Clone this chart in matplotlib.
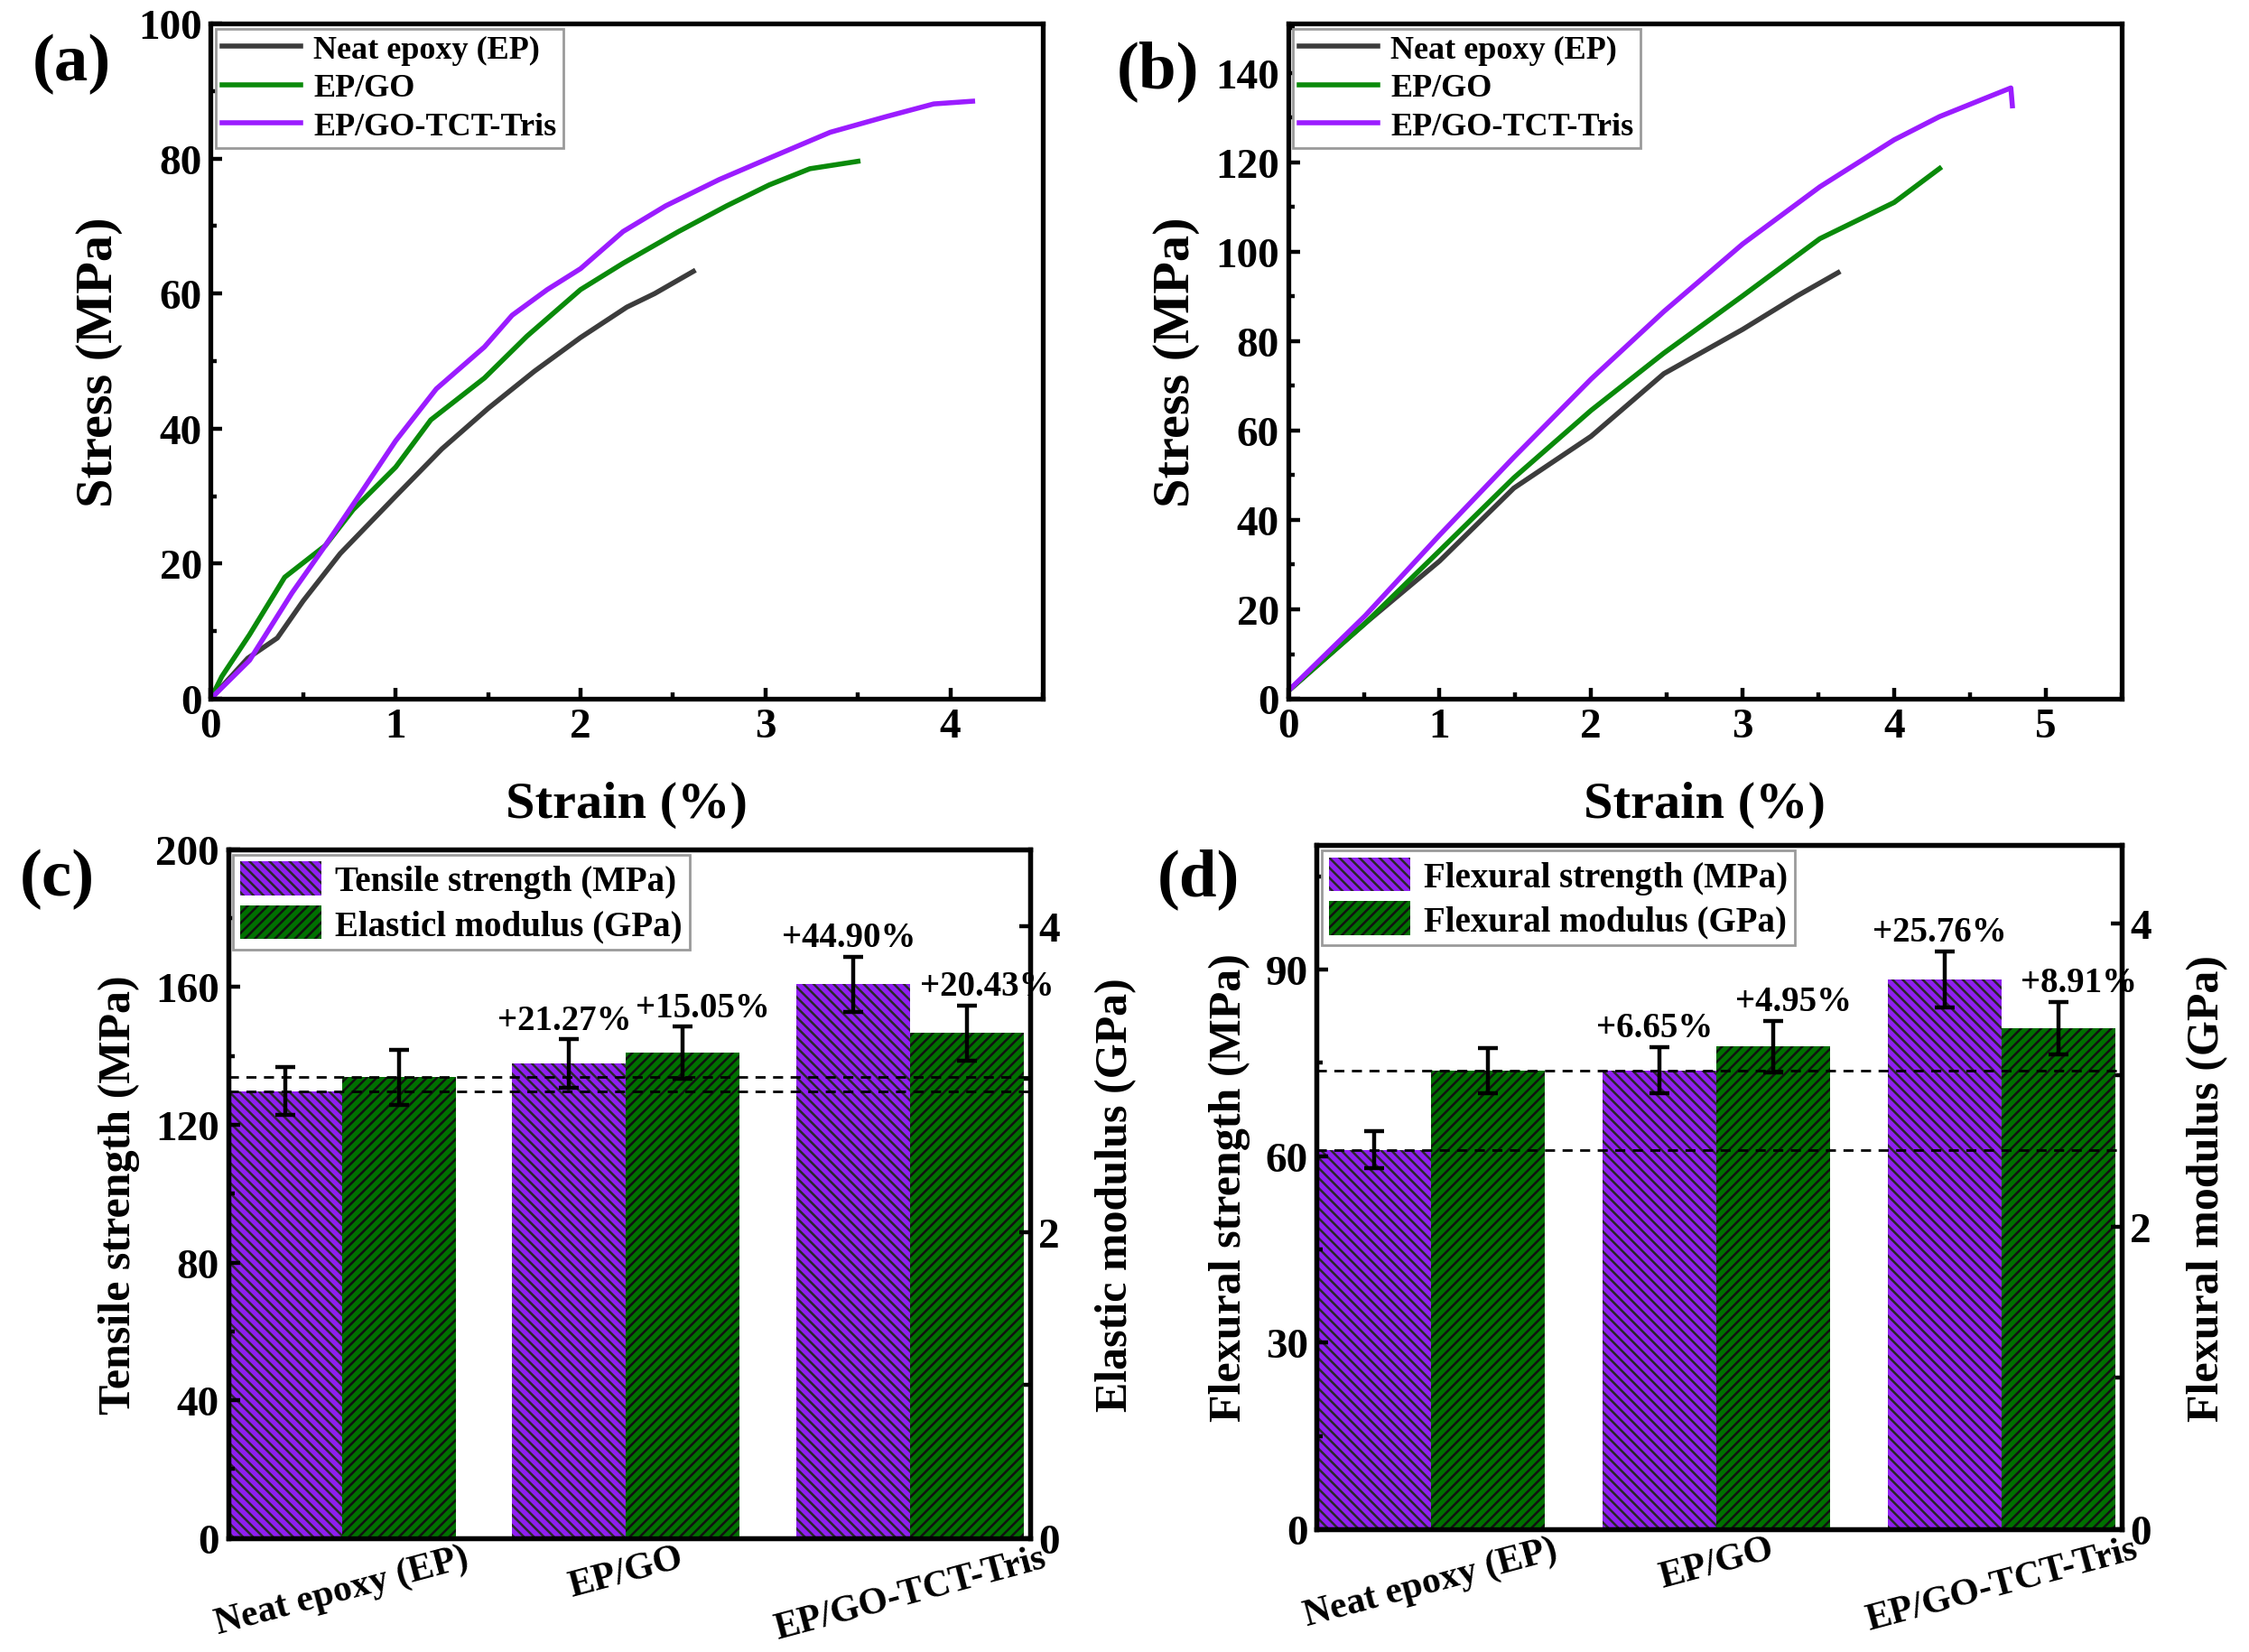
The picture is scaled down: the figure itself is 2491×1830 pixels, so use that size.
import numpy as np
import matplotlib
matplotlib.use('Agg')
import matplotlib.pyplot as plt
from matplotlib.ticker import MultipleLocator

plt.rcParams['font.family'] = ['Liberation Serif', 'DejaVu Serif']
plt.rcParams['font.weight'] = 'bold'
plt.rcParams['axes.labelweight'] = 'bold'
plt.rcParams['hatch.linewidth'] = 0.9

# ---------------- data ----------------
series_names = ['Neat epoxy (EP)', 'EP/GO', 'EP/GO-TCT-Tris']
line_colors = ['#3c3c3c', '#0a8a0a', '#9b1cff']

# (a) tensile stress-strain
a_neat_x = [0, 0.1, 0.2, 0.36, 0.5, 0.7, 1.0, 1.25, 1.5, 1.75, 2.0, 2.25, 2.4, 2.61]
a_neat_y = [0, 3, 6, 9, 14.5, 21.5, 30, 37, 43, 48.5, 53.5, 58, 60, 63.3]
a_go_x = [0, 0.06, 0.21, 0.40, 0.62, 0.77, 1.0, 1.19, 1.48, 1.71, 2.0, 2.23, 2.53, 2.79, 3.02, 3.24, 3.50]
a_go_y = [0, 3.3, 9.5, 18, 22.7, 28, 34.3, 41.3, 47.5, 53.7, 60.6, 64.5, 69.2, 73, 76.1, 78.5, 79.6]
a_tris_x = [0, 0.21, 0.44, 0.62, 0.81, 1.0, 1.22, 1.48, 1.63, 1.82, 2.0, 2.23, 2.46, 2.75, 2.98, 3.35, 3.65, 3.91, 4.12]
a_tris_y = [0, 5.7, 15.7, 22.7, 30.4, 38.2, 45.9, 52.1, 56.8, 60.6, 63.7, 69.2, 73, 76.9, 79.6, 83.9, 86.2, 88.1, 88.5]

# (b) flexural stress-strain
b_neat_x = [0, 0.51, 1.0, 1.49, 2.0, 2.48, 3.0, 3.36, 3.63]
b_neat_y = [1.7, 16.9, 30.8, 47.1, 58.7, 72.7, 82.6, 90.1, 95.3]
b_go_x = [0, 0.51, 1.0, 1.49, 2.0, 2.48, 3.0, 3.51, 4.0, 4.3]
b_go_y = [1.7, 16.9, 33.1, 49.4, 64.5, 77.3, 90.1, 102.9, 111, 118.6]
b_tris_x = [0, 0.51, 1.0, 1.49, 2.0, 2.48, 3.0, 3.51, 4.0, 4.3, 4.6, 4.77, 4.78]
b_tris_y = [1.7, 18.6, 36.6, 54, 71.5, 86.6, 101.7, 114.5, 125, 130.2, 134.3, 136.6, 132.6]

# (c) tensile properties
tensile_strength = [129.8, 137.8, 160.8]
tensile_strength_err = [7, 7, 8]
elastic_modulus = [3.01, 3.17, 3.30]
elastic_modulus_err = [0.18, 0.17, 0.18]
c_labels_strength = ['', '+21.27%', '+44.90%']
c_labels_modulus = ['', '+15.05%', '+20.43%']

# (d) flexural properties
flexural_strength = [61.0, 73.8, 88.4]
flexural_strength_err = [3.0, 3.7, 4.5]
flexural_modulus = [3.03, 3.19, 3.31]
flexural_modulus_err = [0.15, 0.17, 0.175]
d_labels_strength = ['', '+6.65%', '+25.76%']
d_labels_modulus = ['', '+4.95%', '+8.91%']

PURPLE = '#8f1ff0'
GREEN = '#007000'

fig = plt.figure(figsize=(12.455, 9.155), dpi=200)


def style_axis(ax, right=False):
    for s in ax.spines.values():
        s.set_linewidth(1.9)
    ax.tick_params(which='major', direction='in', length=4.5, width=1.6, labelsize=17)
    ax.tick_params(which='minor', direction='in', length=2.6, width=1.6)
    if not right:
        ax.tick_params(which='both', top=False, right=False)


def curve_panel(rect, xs, ys, xlim, ylim, xstep, ystep, letter, lpos):
    ax = fig.add_axes(rect)
    for x, y, c, n in zip(xs, ys, line_colors, series_names):
        ax.plot(x, y, color=c, lw=2.0, label=n)
    ax.set_xlim(*xlim)
    ax.set_ylim(*ylim)
    ax.xaxis.set_major_locator(MultipleLocator(xstep))
    ax.xaxis.set_minor_locator(MultipleLocator(xstep / 2))
    ax.yaxis.set_major_locator(MultipleLocator(ystep))
    ax.yaxis.set_minor_locator(MultipleLocator(ystep / 2))
    style_axis(ax)
    ax.set_xlabel('Strain (%)', fontsize=21, labelpad=14)
    ax.set_ylabel('Stress (MPa)', fontsize=21, labelpad=6)
    leg = ax.legend(loc='upper left', fontsize=13, handlelength=2.4, borderaxespad=0.15,
                    fancybox=False, framealpha=1, borderpad=0.2, labelspacing=0.25, handletextpad=0.4)
    leg.get_frame().set_edgecolor('#9a9a9a')
    leg.get_frame().set_linewidth(1.0)
    fig.text(lpos[0], lpos[1], letter, fontsize=27, ha='center', va='center')
    return ax


def bar_panel(rect, strength, strength_err, modulus, modulus_err, s_max, s_step, m_max,
              s_names, ylab_l, ylab_r, lab_s, lab_m, letter, lpos):
    ax = fig.add_axes(rect)
    ax2 = ax.twinx()
    x = np.arange(1, len(series_names) + 1)
    w = 0.4
    ax.bar(x - w / 2, strength, w, color=PURPLE, edgecolor='#2a2a2a', hatch='\\\\\\\\\\\\',
           linewidth=0, label=s_names[0])
    ax.errorbar(x - w / 2, strength, yerr=strength_err, fmt='none', ecolor='black',
                elinewidth=1.6, capsize=4, capthick=1.6)
    ax2.bar(x + w / 2, modulus, w, color=GREEN, edgecolor='#111111', hatch='//////',
            linewidth=0, label=s_names[1])
    ax2.errorbar(x + w / 2, modulus, yerr=modulus_err, fmt='none', ecolor='black',
                 elinewidth=1.6, capsize=4, capthick=1.6)
    # reference lines at neat epoxy values
    ax2.plot([0, 1], [strength[0]] * 2, transform=ax.get_yaxis_transform(), ls=(0, (4, 3)), color='black', lw=1.0)
    ax2.plot([0, 1], [modulus[0]] * 2, transform=ax2.get_yaxis_transform(), ls=(0, (4, 3)), color='black', lw=1.0)
    for xi, v, e, t in zip(x, strength, strength_err, lab_s):
        ax.annotate(t, (xi - w / 2, v + e), xytext=(-2, 1), textcoords='offset points',
                    ha='center', va='bottom', fontsize=14)
    for xi, v, e, t in zip(x, modulus, modulus_err, lab_m):
        ax2.annotate(t, (xi + w / 2, v + e), xytext=(8, 1), textcoords='offset points',
                     ha='center', va='bottom', fontsize=14)
    ax.set_xlim(0.6, 3.42)
    ax.set_ylim(0, s_max)
    ax2.set_ylim(0, m_max)
    ax.yaxis.set_major_locator(MultipleLocator(s_step))
    ax.yaxis.set_minor_locator(MultipleLocator(s_step / 2))
    ax2.yaxis.set_major_locator(MultipleLocator(2))
    ax2.yaxis.set_minor_locator(MultipleLocator(1))
    style_axis(ax)
    style_axis(ax2, right=True)
    ax.set_xticks(x)
    ax.set_xticklabels(series_names, rotation=15, fontsize=15, ha='center')
    ax.tick_params(axis='x', which='both', length=0, pad=1)
    ax.set_ylabel(ylab_l, fontsize=18, labelpad=6)
    ax2.set_ylabel(ylab_r, fontsize=18, labelpad=14)
    h1, l1 = ax.get_legend_handles_labels()
    h2, l2 = ax2.get_legend_handles_labels()
    leg = ax2.legend(h1 + h2, l1 + l2, loc='upper left', fontsize=14, handlelength=2.3,
                     handleheight=1.1, borderaxespad=0.15, fancybox=False, framealpha=1,
                     borderpad=0.2, labelspacing=0.2, handletextpad=0.4)
    leg.get_frame().set_edgecolor('#9a9a9a')
    leg.get_frame().set_linewidth(1.0)
    fig.text(lpos[0], lpos[1], letter, fontsize=27, ha='center', va='center')
    return ax


curve_panel([0.0937, 0.5767, 0.370, 0.4085],
            [a_neat_x, a_go_x, a_tris_x], [a_neat_y, a_go_y, a_tris_y],
            (0, 4.5), (0, 100), 1, 20, '(a)', (0.032, 0.961))
curve_panel([0.5727, 0.5767, 0.3706, 0.4085],
            [b_neat_x, b_go_x, b_tris_x], [b_neat_y, b_go_y, b_tris_y],
            (0, 5.5), (0, 151), 1, 20, '(b)', (0.515, 0.957))

bar_panel([0.1014, 0.069, 0.3565, 0.4166], tensile_strength, tensile_strength_err,
          elastic_modulus, elastic_modulus_err, 200, 40, 4.5,
          ['Tensile strength (MPa)', 'Elasticl modulus (GPa)'],
          'Tensile strength (MPa)', 'Elastic modulus (GPa)',
          c_labels_strength, c_labels_modulus, '(c)', (0.0255, 0.468))
bar_panel([0.5855, 0.0743, 0.3578, 0.4139], flexural_strength, flexural_strength_err,
          flexural_modulus, flexural_modulus_err, 110, 30, 4.52,
          ['Flexural strength (MPa)', 'Flexural modulus (GPa)'],
          'Flexural strength (MPa)', 'Flexural modulus (GPa)',
          d_labels_strength, d_labels_modulus, '(d)', (0.533, 0.468))

fig.savefig('out.png', dpi=200)
